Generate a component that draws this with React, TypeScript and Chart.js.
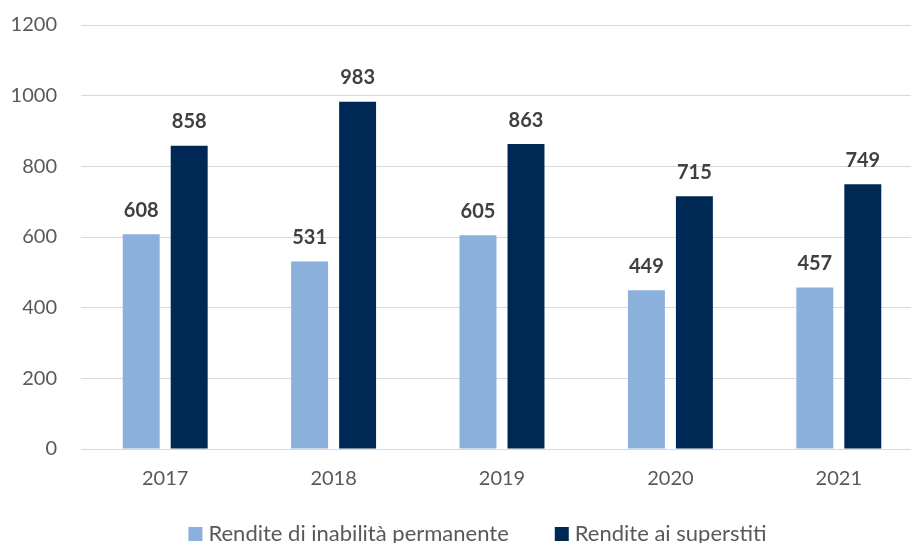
import React, { useEffect, useRef } from "react";
import { Chart, registerables } from "chart.js";
Chart.register(...registerables);

const categories = ["2017", "2018", "2019", "2020", "2021"];
const inabilita = [608, 531, 605, 449, 457];
const superstiti = [858, 983, 863, 715, 749];
const seriesNames = ["Rendite di inabilità permanente", "Rendite ai superstiti"];
const seriesColors = ["#8AB0DB", "#002855"];
const yMax = 1200;
const yStep = 200;

const FONT = "Lato";

const valueLabels = {
  id: "valueLabels",
  afterDatasetsDraw(chart: any) {
    const ctx = chart.ctx;
    ctx.save();
    ctx.font = `bold 20px ${FONT}`;
    ctx.fillStyle = "#404040";
    ctx.textAlign = "center";
    ctx.textBaseline = "middle";
    chart.data.datasets.forEach((ds: any, i: number) => {
      const meta = chart.getDatasetMeta(i);
      meta.data.forEach((el: any, j: number) => {
        ctx.fillText(String(ds.data[j]), el.x, el.y - 24);
      });
    });
    ctx.restore();
  },
};

const customLegend = {
  id: "customLegend",
  afterDraw(chart: any) {
    const ctx = chart.ctx;
    ctx.save();
    ctx.font = `22px ${FONT}`;
    const box = 14;
    const gapBoxText = 6;
    const gapItems = 46;
    const widths = chart.data.datasets.map((ds: any) => ctx.measureText(ds.label).width);
    const total = widths.reduce((a: number, w: number) => a + box + gapBoxText + w, 0) + gapItems * (widths.length - 1);
    let x = 477.5 - total / 2;
    const baseline = 541;
    chart.data.datasets.forEach((ds: any, i: number) => {
      ctx.fillStyle = ds.backgroundColor;
      ctx.fillRect(x, baseline - box, box, box);
      ctx.fillStyle = "#595959";
      ctx.textAlign = "left";
      ctx.textBaseline = "alphabetic";
      ctx.fillText(ds.label, x + box + gapBoxText, baseline);
      x += box + gapBoxText + widths[i] + gapItems;
    });
    ctx.restore();
  },
};

export default function App() {
  const ref = useRef<HTMLCanvasElement | null>(null);
  useEffect(() => {
    if (!ref.current) return;
    const chart = new Chart(ref.current, {
      type: "bar",
      data: {
        labels: categories,
        datasets: [
          {
            label: seriesNames[0],
            data: inabilita,
            backgroundColor: seriesColors[0],
            categoryPercentage: 0.57,
            barPercentage: 0.77,
          },
          {
            label: seriesNames[1],
            data: superstiti,
            backgroundColor: seriesColors[1],
            categoryPercentage: 0.57,
            barPercentage: 0.77,
          },
        ],
      },
      options: {
        responsive: false,
        animation: false,
        layout: { padding: { left: 0, right: 31, top: 25, bottom: 34 } },
        plugins: {
          legend: { display: false },
          tooltip: { enabled: false },
        },
        scales: {
          x: {
            grid: { display: false, drawTicks: false },
            border: { display: true, color: "#D9D9D9", width: 1 },
            ticks: { font: { family: FONT, size: 20 }, color: "#595959", padding: 18 },
          },
          y: {
            min: 0,
            max: yMax,
            afterFit(scale: any) {
              scale.width = 81;
            },
            ticks: {
              stepSize: yStep,
              font: { family: FONT, size: 20 },
              color: "#595959",
              padding: 0,
              callback: (v: any) => String(v),
            },
            grid: {
              color: "#D9D9D9",
              lineWidth: 1,
              drawTicks: true,
              tickLength: 24,
              tickColor: "rgba(0,0,0,0)",
            },
            border: { display: false },
          },
        },
      },
      plugins: [valueLabels, customLegend],
    });
    return () => chart.destroy();
  }, []);
  return (
    <div style={{ position: "fixed", left: 0, top: 0, width: 911, height: 543, overflow: "hidden", background: "#fff" }}>
      <canvas ref={ref} width={954} height={543} style={{ display: "block" }} />
    </div>
  );
}
